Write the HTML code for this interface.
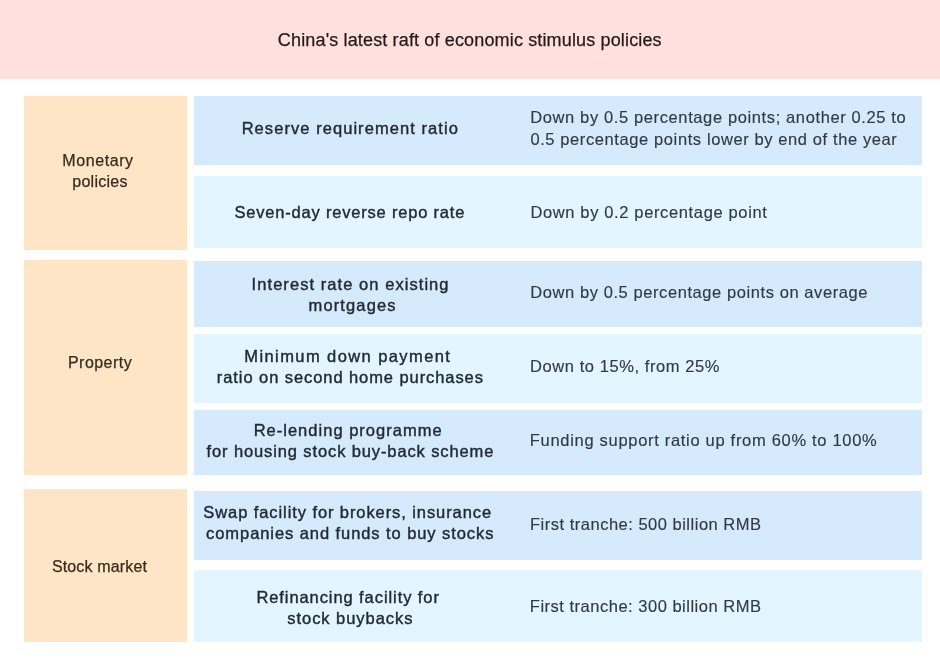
<!DOCTYPE html>
<html>
<head>
<meta charset="utf-8">
<style>
html,body{margin:0;padding:0;background:#fff;}
body{width:940px;height:664px;position:relative;overflow:hidden;font-family:"Liberation Sans",sans-serif;}
.hdr{position:absolute;left:0;top:0;width:940px;height:79px;background:#ffe0df;}
.o{position:absolute;left:24px;width:163px;background:#fee5c5;}
.b{position:absolute;left:194px;width:728px;}
.d{background:#d6eafd;}
.l{background:#e3f5ff;}
.t{position:absolute;white-space:nowrap;line-height:20px;height:20px;}
.tl{position:absolute;left:0;top:0;width:940px;height:664px;will-change:transform;}
.ti{font-size:18px;color:#221a1b;-webkit-text-stroke:0.25px #221a1b;}
.ol{font-size:16px;color:#362c20;-webkit-text-stroke:0.25px #362c20;}
.bl{font-size:16.5px;font-weight:normal;-webkit-text-stroke:0.4px #212a33;color:#212a33;}
.rt{font-size:16.5px;color:#303a44;-webkit-text-stroke:0.15px #303a44;}
</style>
</head>
<body>
<div class="hdr"></div>
<div class="o" style="top:96px;height:154px;"></div>
<div class="o" style="top:260px;height:215px;"></div>
<div class="o" style="top:489px;height:153px;"></div>
<div class="b d" style="top:96px;height:69px;"></div>
<div class="b l" style="top:176px;height:72px;"></div>
<div class="b d" style="top:261px;height:66px;"></div>
<div class="b l" style="top:334px;height:69px;"></div>
<div class="b d" style="top:410px;height:65px;"></div>
<div class="b d" style="top:491px;height:69px;"></div>
<div class="b l" style="top:570px;height:72px;"></div>
<div class="tl">
<div class="t ti" style="left:277.87px;top:29.81px;letter-spacing:0.149px;">China's latest raft of economic stimulus policies</div>
<div class="t ol" style="left:62.22px;top:150.82px;letter-spacing:0.596px;">Monetary</div>
<div class="t ol" style="left:72.30px;top:172.41px;letter-spacing:0.263px;">policies</div>
<div class="t ol" style="left:67.96px;top:353.01px;letter-spacing:0.466px;">Property</div>
<div class="t ol" style="left:51.89px;top:557.01px;letter-spacing:0.158px;">Stock market</div>
<div class="t bl" style="left:241.65px;top:117.90px;letter-spacing:1.059px;">Reserve requirement ratio</div>
<div class="t bl" style="left:234.55px;top:201.71px;letter-spacing:0.797px;">Seven-day reverse repo rate</div>
<div class="t bl" style="left:251.61px;top:273.71px;letter-spacing:1.058px;">Interest rate on existing</div>
<div class="t bl" style="left:308.57px;top:295.21px;letter-spacing:1.124px;">mortgages</div>
<div class="t bl" style="left:244.25px;top:345.71px;letter-spacing:1.414px;">Minimum down payment</div>
<div class="t bl" style="left:216.86px;top:367.21px;letter-spacing:0.920px;">ratio on second home purchases</div>
<div class="t bl" style="left:253.63px;top:419.71px;letter-spacing:1.014px;">Re-lending programme</div>
<div class="t bl" style="left:206.59px;top:440.90px;letter-spacing:0.880px;">for housing stock buy-back scheme</div>
<div class="t bl" style="left:203.36px;top:501.60px;letter-spacing:0.910px;">Swap facility for brokers, insurance</div>
<div class="t bl" style="left:206.10px;top:522.81px;letter-spacing:0.924px;">companies and funds to buy stocks</div>
<div class="t bl" style="left:256.38px;top:586.50px;letter-spacing:0.918px;">Refinancing facility for</div>
<div class="t bl" style="left:287.31px;top:608.31px;letter-spacing:0.953px;">stock buybacks</div>
<div class="t rt" style="left:530.26px;top:107.41px;letter-spacing:0.618px;">Down by 0.5 percentage points; another 0.25 to</div>
<div class="t rt" style="left:530.38px;top:128.60px;letter-spacing:0.601px;">0.5 percentage points lower by end of the year</div>
<div class="t rt" style="left:530.42px;top:201.60px;letter-spacing:0.637px;">Down by 0.2 percentage point</div>
<div class="t rt" style="left:530.30px;top:282.32px;letter-spacing:0.576px;">Down by 0.5 percentage points on average</div>
<div class="t rt" style="left:530.11px;top:355.90px;letter-spacing:0.565px;">Down to 15%, from 25%</div>
<div class="t rt" style="left:529.80px;top:430.00px;letter-spacing:0.695px;">Funding support ratio up from 60% to 100%</div>
<div class="t rt" style="left:530.03px;top:513.90px;letter-spacing:0.502px;">First tranche: 500 billion RMB</div>
<div class="t rt" style="left:529.80px;top:595.90px;letter-spacing:0.507px;">First tranche: 300 billion RMB</div>
</div>
</body>
</html>
